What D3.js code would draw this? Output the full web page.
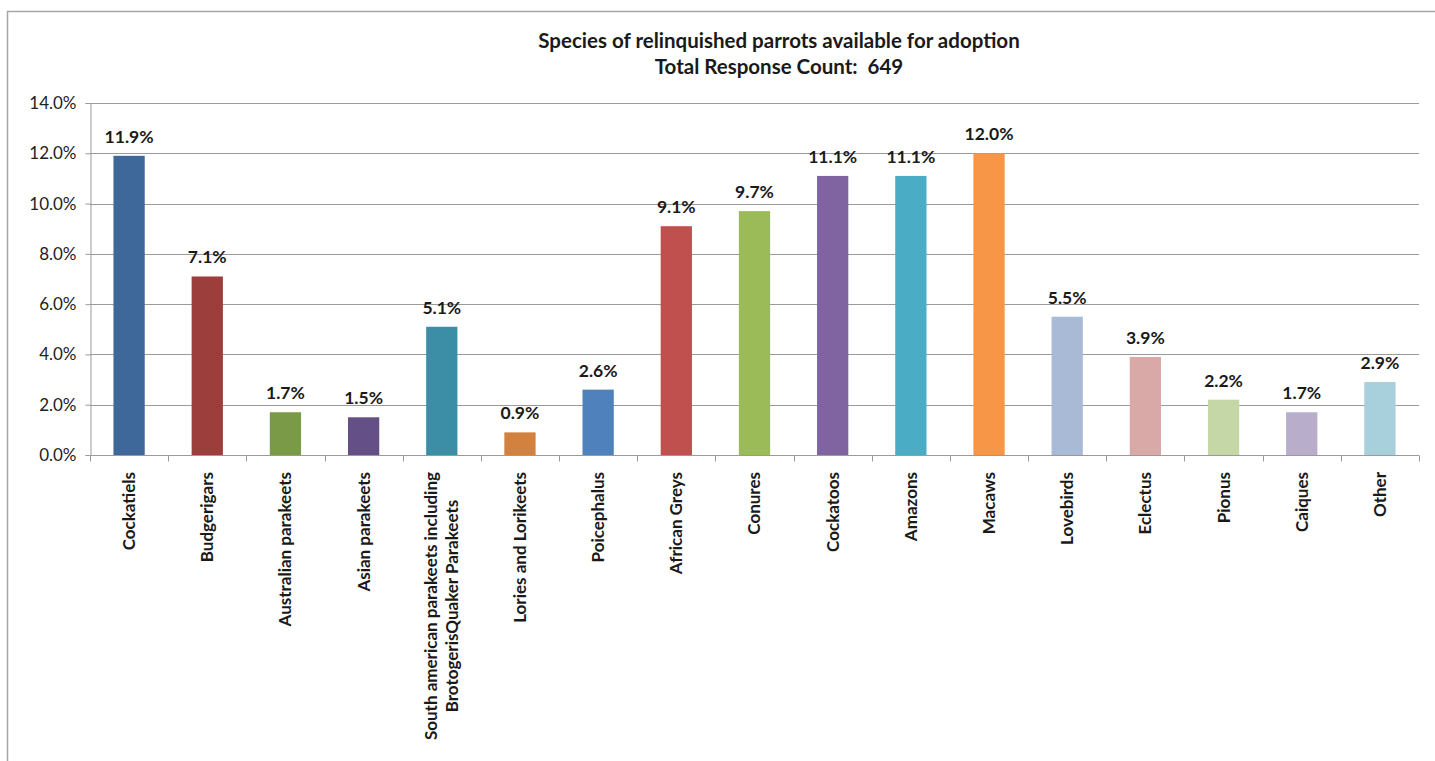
<!DOCTYPE html>
<html>
<head>
<meta charset="utf-8">
<script src="https://cdn.jsdelivr.net/npm/d3@7"></script>
<style>
  html, body { margin: 0; padding: 0; background: #fff; }
  svg { display: block; font-family: Lato, "Open Sans", sans-serif; }
</style>
</head>
<body>
<svg id="chart" width="1435" height="761"></svg>
<script>
// Survey results: species of relinquished parrots available for adoption
const titleLines = ["Species of relinquished parrots available for adoption", "Total Response Count:  649"];

const categories = [
  ["Cockatiels"],
  ["Budgerigars"],
  ["Australian parakeets"],
  ["Asian parakeets"],
  ["South american parakeets including", "BrotogerisQuaker Parakeets"],
  ["Lories and Lorikeets"],
  ["Poicephalus"],
  ["African Greys"],
  ["Conures"],
  ["Cockatoos"],
  ["Amazons"],
  ["Macaws"],
  ["Lovebirds"],
  ["Eclectus"],
  ["Pionus"],
  ["Caiques"],
  ["Other"]
];

const percentValues = [11.9, 7.1, 1.7, 1.5, 5.1, 0.9, 2.6, 9.1, 9.7, 11.1, 11.1, 12.0, 5.5, 3.9, 2.2, 1.7, 2.9];

const barColors = [
  "#3e689a", "#9c3e3c", "#7b9a48", "#654f87", "#3c8ea6", "#d3813e",
  "#4f81bd", "#c0504d", "#9bbb59", "#8064a2", "#4bacc6", "#f79646",
  "#a9bad7", "#d9a9a8", "#c5d7a7", "#b8aecc", "#a7cfdc"
];

const yTickValues = [0, 2, 4, 6, 8, 10, 12, 14];

const svg = d3.select("#chart");
const plot = { left: 90, right: 1419, top: 103, bottom: 455 };
const gridColor = "#9a9a9a";
const textColor = "#1a1a1a";

// outer chart frame
svg.append("rect")
  .attr("x", 7.5).attr("y", 11.5)
  .attr("width", 1500).attr("height", 800)
  .attr("fill", "none").attr("stroke", "#a6a6a6").attr("stroke-width", 1.5);

// title
svg.append("text")
  .attr("x", 779).attr("y", 48)
  .attr("text-anchor", "middle")
  .attr("font-size", 20.5).attr("font-weight", 700).attr("fill", textColor)
  .selectAll("tspan").data(titleLines).join("tspan")
  .attr("x", 779).attr("dy", (d, i) => i === 0 ? 0 : 26)
  .style("white-space", "pre")
  .text(d => d);

const keys = categories.map(c => c.join(" "));

const y = d3.scaleLinear().domain([0, 14]).range([plot.bottom, plot.top]);
const xSlots = d3.scaleBand().domain(keys).range([plot.left, plot.right]).padding(0);
const xBars = d3.scaleBand().domain(keys).range([plot.left, plot.right])
  .paddingInner(0.6).paddingOuter(0.3);

// horizontal gridlines
svg.append("g")
  .selectAll("line").data(yTickValues.filter(v => v > 0)).join("line")
  .attr("x1", plot.left).attr("x2", plot.right)
  .attr("y1", d => Math.round(y(d)) + 0.5).attr("y2", d => Math.round(y(d)) + 0.5)
  .attr("stroke", gridColor).attr("stroke-width", 1);

// y axis
const yAxis = svg.append("g")
  .attr("transform", `translate(${plot.left + 0.5},0)`)
  .call(d3.axisLeft(y).tickValues(yTickValues).tickSize(5).tickPadding(9)
    .tickFormat(d => d3.format(".1f")(d) + "%"));
yAxis.select(".domain").attr("stroke", gridColor);
yAxis.selectAll(".tick line").attr("stroke", gridColor);
yAxis.selectAll(".tick text").attr("font-size", 17).attr("fill", "#222")
  .attr("font-family", "Lato, 'Open Sans', sans-serif");

// bars
svg.append("g")
  .selectAll("rect").data(percentValues).join("rect")
  .attr("x", (d, i) => xBars(keys[i]))
  .attr("width", xBars.bandwidth())
  .attr("y", d => y(d))
  .attr("height", d => y(0) - y(d))
  .attr("fill", (d, i) => barColors[i]);

// x axis line and category boundary ticks
const xAxis = svg.append("g").attr("transform", `translate(0,${Math.round(plot.bottom) + 0.5})`);
xAxis.append("line")
  .attr("x1", plot.left).attr("x2", plot.right)
  .attr("stroke", gridColor);
const boundaries = keys.map(k => xSlots(k)).concat([plot.right]);
xAxis.selectAll("line.tick").data(boundaries).join("line")
  .attr("class", "tick")
  .attr("x1", d => Math.round(d) + 0.5).attr("x2", d => Math.round(d) + 0.5)
  .attr("y1", 0).attr("y2", 6)
  .attr("stroke", gridColor);

// value labels above bars
svg.append("g")
  .selectAll("text").data(percentValues).join("text")
  .attr("x", (d, i) => xBars(keys[i]) + xBars.bandwidth() / 2)
  .attr("y", d => y(d) - 13)
  .attr("text-anchor", "middle")
  .attr("font-size", 17.5).attr("font-weight", 700).attr("fill", textColor)
  .text(d => d3.format(".1f")(d) + "%");

// rotated category labels, lines centred on each other
const labelTop = 472;
const lineGap = 21;
categories.forEach((lines, i) => {
  const cx = xSlots(keys[i]) + xSlots.bandwidth() / 2;
  const g = svg.append("g");
  const texts = lines.map((line, j) => {
    const off = (j - (lines.length - 1) / 2) * lineGap;
    return g.append("text")
      .attr("font-size", 17).attr("font-weight", 700).attr("fill", textColor)
      .attr("text-anchor", "middle")
      .attr("dy", "0.35em")
      .datum(off)
      .text(line);
  });
  const maxLen = d3.max(texts, t => t.node().getComputedTextLength());
  const midY = labelTop + maxLen / 2;
  texts.forEach(t => {
    const off = t.datum();
    t.attr("transform", `translate(${cx + off},${midY}) rotate(-90)`);
  });
});
</script>
</body>
</html>
